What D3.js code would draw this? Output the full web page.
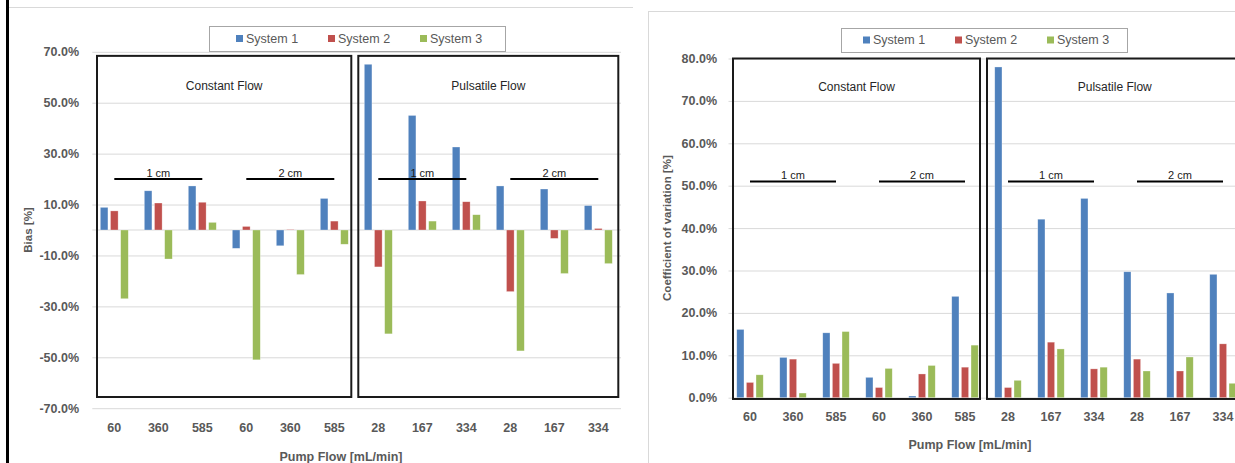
<!DOCTYPE html>
<html lang="en">
<head>
    <meta charset="utf-8">
    <script src="https://cdn.jsdelivr.net/npm/d3@7/dist/d3.min.js"></script>
    <style type="text/css">
        body { margin: 0; background: #ffffff; }
        svg text { font-family: "Liberation Sans", Arial, sans-serif; }
    </style>
</head>
<body>
<script>
    // categories (pump flow, mL/min) - constant 1 cm, constant 2 cm, pulsatile 1 cm, pulsatile 2 cm
    var flowLabels = ['60', '360', '585', '60', '360', '585', '28', '167', '334', '28', '167', '334'];
    var seriesNames = ['System 1', 'System 2', 'System 3'];
    var seriesColors = ['#4f81bd', '#c0504d', '#9bbb59'];
    var panelNames = ['Constant Flow', 'Pulsatile Flow'];
    var distanceNames = ['1 cm', '2 cm', '1 cm', '2 cm'];

    // bias [%]
    var biasSystem1 = [8.9, 15.4, 17.3, -7.2, -6.2, 12.4, 65.1, 45.0, 32.6, 17.3, 16.1, 9.6];
    var biasSystem2 = [7.5, 10.6, 10.9, 1.4, 0.2, 3.5, -14.5, 11.4, 11.1, -24.2, -3.3, 0.6];
    var biasSystem3 = [-27.0, -11.4, 3.0, -51.0, -17.5, -5.6, -40.8, 3.5, 6.0, -47.5, -17.1, -13.2];
    var biasTicks = [-70, -50, -30, -10, 10, 30, 50, 70];

    // coefficient of variation [%]
    var cvSystem1 = [16.1, 9.5, 15.3, 4.8, 0.4, 23.9, 78.0, 42.1, 47.0, 29.7, 24.7, 29.1];
    var cvSystem2 = [3.6, 9.1, 8.1, 2.4, 5.6, 7.2, 2.4, 13.1, 6.8, 9.1, 6.3, 12.7];
    var cvSystem3 = [5.4, 1.1, 15.6, 6.9, 7.6, 12.4, 4.1, 11.5, 7.2, 6.3, 9.6, 3.4];
    var cvTicks = [0, 10, 20, 30, 40, 50, 60, 70, 80];

    var svg = d3.select('body')
            .append('svg')
            .attr('width', 1235)
            .attr('height', 463);

    // chart frames as seen in the screenshot
    svg.append('line')
            .attr('x1', 9).attr('x2', 633).attr('y1', 7.5).attr('y2', 7.5)
            .attr('stroke', '#d9d9d9');
    svg.append('line')
            .attr('x1', 7.5).attr('x2', 7.5).attr('y1', 0).attr('y2', 463)
            .attr('stroke', '#000').attr('stroke-width', 3);
    svg.append('rect')
            .attr('x', 648.5).attr('y', 11.5).attr('width', 700).attr('height', 500)
            .attr('fill', 'none').attr('stroke', '#d9d9d9');

    drawChart({
        values: [biasSystem1, biasSystem2, biasSystem3],
        ticks: biasTicks,
        yDomain: [-70, 70],
        yRange: [408.2, 51.8],
        xRange: [92.3, 620.3],
        gridEnd: 621,
        pad: 0.364,
        labelRight: 79,
        zeroLine: true,
        boxTop: 68.4, boxBottom: -65.6,
        boxInset: [4.7, 5, 2, 2],
        panelLabelAt: 56.6,
        cmAt: 20,
        xLabelY: 435,
        titleX: 341, titleY: 461,
        yTitle: 'Bias [%]', yTitleX: 28,
        legend: [209, 26, 296, 25]
    });

    drawChart({
        values: [cvSystem1, cvSystem2, cvSystem3],
        ticks: cvTicks,
        yDomain: [0, 80],
        yRange: [397.7, 58.5],
        xRange: [728.5, 1244.5],
        gridEnd: 1240,
        pad: 0.384,
        labelRight: 717,
        zeroLine: false,
        boxTop: 80, boxBottom: -0.3,
        boxInset: [4.5, 6.5, 0.5, 2],
        panelLabelAt: 73.3,
        cmAt: 51,
        xLabelY: 424,
        titleX: 970, titleY: 448.5,
        yTitle: 'Coefficient of variation [%]', yTitleX: 667,
        legend: [841, 28, 286, 24]
    });

    function drawChart(c) {
        var g = svg.append('g');
        var n = flowLabels.length;

        var x0 = d3.scaleBand()
                .domain(d3.range(n))
                .range(c.xRange)
                .paddingInner(c.pad)
                .paddingOuter(c.pad / 2);
        var x1 = d3.scaleBand()
                .domain([0, 1, 2])
                .range([0, x0.bandwidth()])
                .paddingInner(0.25);
        var y = d3.scaleLinear()
                .domain(c.yDomain)
                .range(c.yRange);
        var step = x0.step();
        var edge = function (i) { return c.xRange[0] + i * step; };
        var mid = function (i) { return x0(i) + x0.bandwidth() / 2; };

        // gridlines
        var grid = g.append('g')
                .attr('transform', 'translate(' + c.xRange[0] + ',0)')
                .call(d3.axisLeft(y).tickValues(c.ticks)
                        .tickSize(-(c.gridEnd - c.xRange[0])).tickFormat(''));
        grid.select('.domain').remove();
        grid.selectAll('line').attr('stroke', '#d9d9d9');
        if (c.zeroLine) {
            g.append('line')
                    .attr('x1', c.xRange[0]).attr('x2', c.gridEnd)
                    .attr('y1', y(0)).attr('y2', y(0))
                    .attr('stroke', '#d9d9d9');
        }

        // y tick labels
        var yAxis = g.append('g')
                .attr('transform', 'translate(' + c.labelRight + ',0)')
                .call(d3.axisLeft(y).tickValues(c.ticks).tickSize(0).tickPadding(0)
                        .tickFormat(function (d) { return d.toFixed(1) + '%'; }));
        yAxis.select('.domain').remove();
        yAxis.selectAll('text')
                .attr('fill', '#595959')
                .style('font-size', '12.5px')
                .style('font-weight', 'bold');

        // x tick labels
        var xAxis = g.append('g')
                .attr('transform', 'translate(0,' + (c.xLabelY - 12) + ')')
                .call(d3.axisBottom(x0).tickSize(0).tickPadding(0)
                        .tickFormat(function (i) { return flowLabels[i]; }));
        xAxis.select('.domain').remove();
        xAxis.selectAll('text')
                .attr('fill', '#595959')
                .style('font-size', '12.5px')
                .style('font-weight', 'bold');

        // bars
        c.values.forEach(function (vals, s) {
            g.append('g')
                    .selectAll('rect')
                    .data(vals)
                    .enter()
                    .append('rect')
                    .attr('x', function (d, i) { return x0(i) + x1(s); })
                    .attr('width', x1.bandwidth())
                    .attr('y', function (d) { return y(Math.max(0, d)); })
                    .attr('height', function (d) { return Math.abs(y(d) - y(0)); })
                    .attr('fill', seriesColors[s])
                    .attr('stroke', '#ffffff')
                    .attr('stroke-opacity', 0.5)
                    .attr('stroke-width', 0.6);
        });

        // flow-type panels
        var boxes = [[edge(0) + c.boxInset[0], edge(6) - c.boxInset[1]],
            [edge(6) + c.boxInset[2], edge(n) - c.boxInset[3]]];
        boxes.forEach(function (b, k) {
            g.append('rect')
                    .attr('x', b[0]).attr('y', y(c.boxTop))
                    .attr('width', b[1] - b[0])
                    .attr('height', y(c.boxBottom) - y(c.boxTop))
                    .attr('fill', 'none')
                    .attr('stroke', '#1a1a1a')
                    .attr('stroke-width', 2);
            g.append('text')
                    .attr('x', (b[0] + b[1]) / 2)
                    .attr('y', y(c.panelLabelAt))
                    .attr('dy', '0.35em')
                    .attr('text-anchor', 'middle')
                    .attr('fill', '#262626')
                    .style('font-size', '12px')
                    .text(panelNames[k]);
        });

        // distance brackets
        distanceNames.forEach(function (name, k) {
            var a = mid(k * 3), b = mid(k * 3 + 2);
            g.append('line')
                    .attr('x1', a).attr('x2', b)
                    .attr('y1', y(c.cmAt)).attr('y2', y(c.cmAt))
                    .attr('stroke', '#000').attr('stroke-width', 2);
            g.append('text')
                    .attr('x', (a + b) / 2)
                    .attr('y', y(c.cmAt) - 2.5)
                    .attr('text-anchor', 'middle')
                    .attr('fill', '#1a1a1a')
                    .style('font-size', '11px')
                    .text(name);
        });

        // axis titles
        g.append('text')
                .attr('x', c.titleX).attr('y', c.titleY)
                .attr('text-anchor', 'middle')
                .attr('fill', '#595959')
                .style('font-size', '12.5px')
                .style('font-weight', 'bold')
                .text('Pump Flow [mL/min]');
        var ym = (c.yRange[0] + c.yRange[1]) / 2;
        g.append('text')
                .attr('transform', 'translate(' + c.yTitleX + ',' + ym + ') rotate(-90)')
                .attr('dy', '0.35em')
                .attr('text-anchor', 'middle')
                .attr('fill', '#595959')
                .style('font-size', '11.5px')
                .style('font-weight', 'bold')
                .text(c.yTitle);

        // legend
        var L = c.legend;
        g.append('rect')
                .attr('x', L[0] + 0.5).attr('y', L[1] + 0.5)
                .attr('width', L[2]).attr('height', L[3])
                .attr('fill', '#fff')
                .attr('stroke', '#a6a6a6');
        var cx = L[0] + L[2] / 2;
        var item = g.selectAll('.legend-item')
                .data(seriesNames)
                .enter()
                .append('g')
                .attr('transform', function (d, i) {
                    return 'translate(' + (cx + (i - 1) * 92 - 29) + ',' + (L[1] + L[3] / 2) + ')';
                });
        item.append('rect')
                .attr('x', 0).attr('y', -3.5)
                .attr('width', 7).attr('height', 7)
                .attr('fill', function (d, i) { return seriesColors[i]; });
        item.append('text')
                .attr('x', 10).attr('dy', '0.35em')
                .attr('fill', '#595959')
                .style('font-size', '12.5px')
                .text(function (d) { return d; });
    }
</script>
</body>
</html>
